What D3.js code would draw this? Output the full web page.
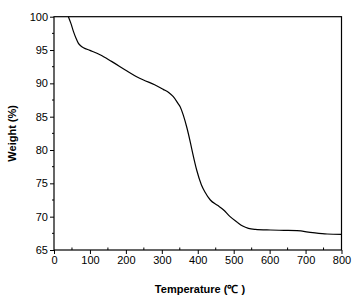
<!DOCTYPE html>
<html>
<head>
    <style>
        body { margin: 0; background: #fff; }
        text { font-family: "Liberation Sans", Arial, sans-serif; }
    </style>
    <script src="https://d3js.org/d3.v7.min.js"></script>
</head>
<body>
    <svg width="363" height="297"></svg>
    <script>
        // TGA curve values
        var temps   = [40, 47, 54, 61, 68, 75, 82, 100, 128, 160, 202, 230, 249, 280, 304, 320, 332, 345, 351, 360, 370, 380, 386, 397, 410, 420, 435, 455, 472, 490, 509, 525, 541, 560, 602, 640, 676, 720, 760, 800];
        var weights = [100, 99.0, 97.8, 96.8, 96.0, 95.6, 95.35, 94.95, 94.3, 93.3, 91.9, 91.0, 90.5, 89.8, 89.1, 88.6, 88.0, 87.0, 86.5, 85.2, 83.3, 81.0, 79.5, 77.0, 74.8, 73.7, 72.5, 71.7, 71.0, 70.0, 69.2, 68.6, 68.25, 68.1, 68.0, 67.95, 67.9, 67.6, 67.4, 67.35];
        var xTicks = [0, 100, 200, 300, 400, 500, 600, 700, 800];
        var yTicks = [65, 70, 75, 80, 85, 90, 95, 100];

        var svg = d3.select("svg");
        var mLeft = 54, mRight = 341.5, mTop = 16.7, mBottom = 250;

        var x = d3.scaleLinear().domain([0, 800]).range([mLeft, mRight]);
        var y = d3.scaleLinear().domain([65, 100]).range([mBottom, mTop]);

        // minor ticks
        var xMinor = d3.range(50, 800, 100);
        var yMinor = d3.range(67.5, 100, 5);
        svg.selectAll(".xm").data(xMinor).enter().append("line")
            .attr("x1", d => x(d)).attr("x2", d => x(d))
            .attr("y1", mBottom).attr("y2", mBottom - 2.5)
            .attr("stroke", "#000").attr("stroke-width", 1);
        svg.selectAll(".ym").data(yMinor).enter().append("line")
            .attr("x1", mLeft).attr("x2", mLeft - 2)
            .attr("y1", d => y(d)).attr("y2", d => y(d))
            .attr("stroke", "#000").attr("stroke-width", 1);

        // axes
        var xAxis = d3.axisBottom(x).tickValues(xTicks).tickSize(4).tickPadding(2).tickFormat(d3.format("d"));
        var yAxis = d3.axisLeft(y).tickValues(yTicks).tickSize(4).tickPadding(2).tickFormat(d3.format("d"));

        var gx = svg.append("g").attr("transform", "translate(0," + mBottom + ")").call(xAxis);
        var gy = svg.append("g").attr("transform", "translate(" + mLeft + ",0)").call(yAxis);
        [gx, gy].forEach(function(g) {
            g.select(".domain").remove();
            g.selectAll("text").attr("font-size", 11).attr("fill", "#000")
                .attr("font-family", "Liberation Sans, Arial, sans-serif");
            g.selectAll("line").attr("stroke", "#000");
        });

        // frame
        svg.append("rect")
            .attr("x", mLeft).attr("y", mTop)
            .attr("width", mRight - mLeft).attr("height", mBottom - mTop)
            .attr("fill", "none").attr("stroke", "#000").attr("stroke-width", 1.2);

        // curve
        var line = d3.line()
            .x(function(d, i) { return x(temps[i]); })
            .y(function(d) { return y(d); })
            .curve(d3.curveMonotoneX);

        svg.append("path")
            .datum(weights)
            .attr("d", line)
            .attr("fill", "none")
            .attr("stroke", "#000")
            .attr("stroke-width", 1.2);

        // axis titles
        svg.append("text")
            .attr("x", 200).attr("y", 293)
            .attr("text-anchor", "middle")
            .attr("font-size", 11).attr("font-weight", "bold")
            .text("Temperature (℃ )");

        svg.append("text")
            .attr("transform", "translate(16," + (mTop + mBottom) / 2 + ") rotate(-90)")
            .attr("text-anchor", "middle")
            .attr("font-size", 11).attr("font-weight", "bold")
            .text("Weight (%)");
    </script>
</body>
</html>
